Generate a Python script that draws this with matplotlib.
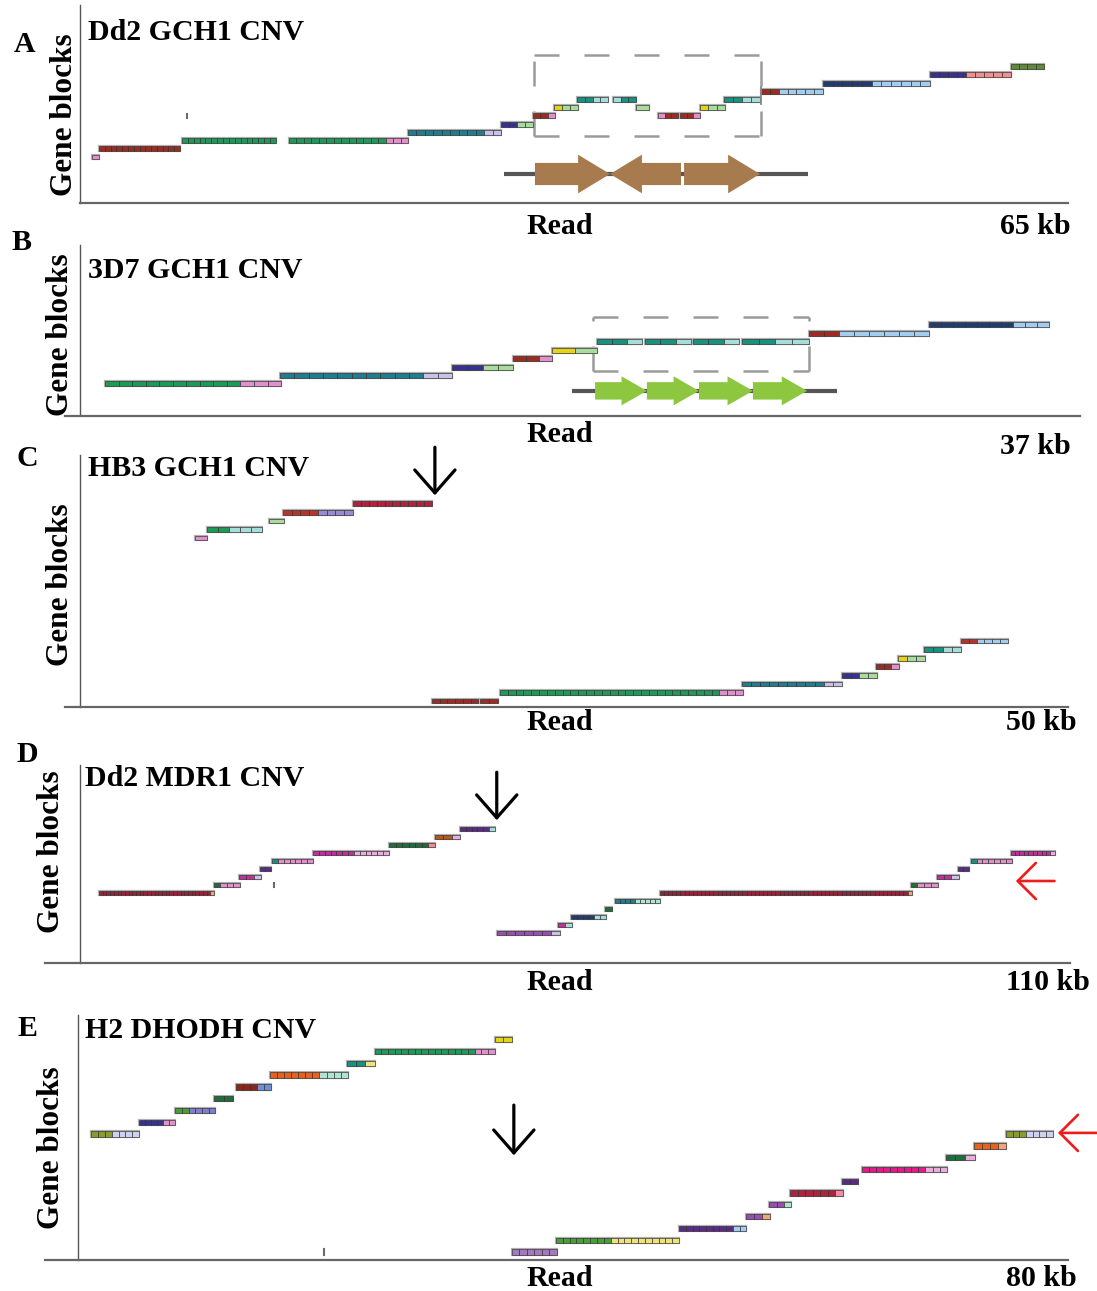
import matplotlib
matplotlib.use("Agg")
import matplotlib.pyplot as plt
from matplotlib.patches import Rectangle, FancyArrow
from matplotlib.lines import Line2D

plt.rcParams['font.family'] = ['Liberation Serif', 'DejaVu Serif']

W, H = 1097, 1291

palette = {
    "red": "#9e2b22", "green": "#1e9a58", "pink": "#e190cc", "teal": "#1f7d8f",
    "lav": "#c9c2e6", "navy": "#38328f", "lgreen": "#a9dc9c", "yellow": "#e6d21a",
    "cyan": "#18927f", "lcyan": "#a6dcda", "lblue": "#a3cdef", "dnavy": "#223a6e",
    "salmon": "#ef8f8f", "olive": "#5f8a3a", "crimson": "#b0213d", "brick": "#b8332a",
    "violet": "#9a8ad4", "wine": "#9c1f38", "peach": "#f3a57a", "magenta": "#c32e9e",
    "lpink": "#e9acdc", "purple": "#5b2a86", "violet2": "#9a4db0", "lilac": "#a877c2",
    "rust": "#b5561d", "orange": "#e8621e", "mint": "#afe3d2", "peri": "#7f7fd0",
    "cblue": "#6d8fd8", "hotpink": "#e4198a", "khaki": "#8a9a2e", "pale": "#cdd0ee",
    "dgreen": "#1d6e3a", "lgreen2": "#4a9e3a", "lyellow": "#f0e27a", "rose": "#f08aa8",
    "dred": "#8e2418", "grey": "#6b6b6b",
}

# ---- panel A: Dd2 GCH1 CNV (65 kb read) ----
a_len = 65
a_blocks = [  # start kb, end kb, gene-block row, colour runs (colour, cells)
    (0.79, 1.25, 0, [("pink", 1)]),
    (1.25, 6.58, 1, [("red", 14)]),
    (6.71, 12.89, 2, [("green", 16)]),
    (13.75, 21.58, 2, [("green", 13), ("pink", 3)]),
    (21.58, 27.70, 3, [("teal", 9), ("lav", 2)]),
    (27.70, 29.80, 4, [("navy", 2), ("lgreen", 2)]),
    (29.80, 31.25, 5, [("red", 2), ("pink", 1)]),
    (31.18, 32.76, 6, [("yellow", 1), ("lgreen", 2)]),
    (32.70, 34.74, 7, [("cyan", 2), ("lcyan", 2)]),
    (35.07, 36.58, 7, [("lcyan", 1), ("cyan", 2)]),
    (36.58, 37.43, 6, [("lgreen", 1)]),
    (38.03, 39.34, 5, [("pink", 1), ("red", 2)]),
    (39.47, 40.79, 5, [("red", 2), ("pink", 1)]),
    (40.79, 42.43, 6, [("yellow", 1), ("lgreen", 2)]),
    (42.37, 44.74, 7, [("cyan", 2), ("lcyan", 2)]),
    (44.80, 48.88, 8, [("red", 2), ("lblue", 5)]),
    (48.88, 55.92, 9, [("dnavy", 5), ("lblue", 6)]),
    (55.92, 61.25, 10, [("navy", 4), ("salmon", 5)]),
    (61.25, 63.42, 11, [("olive", 4)]),
]
a_ticks = [(7.04, 5), (44.80, 7.5)]
a_box = (29.87, 44.80, 2.56, 12.4)          # x0, x1, y0, y1
a_gene_line = (27.9, 47.9, -2.07)
a_genes = [(29.93, 34.87), (39.54, 34.87), (39.74, 44.74)]  # tail, tip

# ---- panel B: 3D7 GCH1 CNV (37 kb read) ----
b_len = 37
b_blocks = [
    (0.94, 7.53, 0, [("green", 10), ("pink", 3)]),
    (7.49, 13.93, 1, [("teal", 10), ("lav", 2)]),
    (13.93, 16.22, 2, [("navy", 2), ("lgreen", 2)]),
    (16.22, 17.68, 3, [("red", 2), ("pink", 1)]),
    (17.68, 19.36, 4, [("yellow", 1), ("lgreen", 1)]),
    (19.36, 21.05, 5, [("cyan", 2), ("lcyan", 1)]),
    (21.16, 22.88, 5, [("cyan", 2), ("lcyan", 1)]),
    (22.96, 24.68, 5, [("cyan", 2), ("lcyan", 1)]),
    (24.79, 27.30, 5, [("cyan", 2), ("lcyan", 2)]),
    (27.30, 31.80, 6, [("red", 2), ("lblue", 6)]),
    (31.80, 36.29, 7, [("dnavy", 7), ("lblue", 3)]),
]
b_box = (19.21, 27.30, 1.55, 7.98)
b_gene_line = (18.43, 28.35, -0.83)
b_genes = [(19.29, 21.23), (21.23, 23.18), (23.18, 25.20), (25.20, 27.23)]

# ---- panel C: HB3 GCH1 CNV (50 kb read) ----
c_len = 50
c_blocks = [
    (5.82, 6.43, 19, [("pink", 1)]),
    (6.43, 9.21, 20, [("green", 2), ("lcyan", 3)]),
    (9.57, 10.32, 21, [("lgreen", 1)]),
    (10.27, 13.81, 22, [("brick", 4), ("violet", 4)]),
    (13.81, 17.81, 23, [("crimson", 10)]),
    (17.81, 20.16, 0, [("red", 6)]),
    (20.26, 21.15, 0, [("red", 2)]),
    (21.25, 33.55, 1, [("green", 28), ("pink", 3)]),
    (33.50, 38.55, 2, [("teal", 9), ("lav", 2)]),
    (38.55, 40.33, 3, [("navy", 2), ("lgreen", 2)]),
    (40.28, 41.44, 4, [("red", 2), ("pink", 1)]),
    (41.39, 42.76, 5, [("yellow", 1), ("lgreen", 2)]),
    (42.71, 44.60, 6, [("cyan", 2), ("lcyan", 2)]),
    (44.58, 46.96, 7, [("brick", 2), ("lblue", 4)]),
]
c_break = (17.96, 29.6, 24.0)   # x, from row, to row

# ---- panel D: Dd2 MDR1 CNV (110 kb read) ----
d_len = 110
d_blocks = [
    (2.11, 14.92, 5, [("wine", 30), ("peach", 1)]),
    (14.92, 17.81, 6, [("dgreen", 1), ("pink", 3)]),
    (17.70, 20.15, 7, [("magenta", 2), ("lav", 1)]),
    (20.04, 21.26, 8, [("purple", 2)]),
    (21.38, 25.94, 9, [("cyan", 1), ("pink", 6)]),
    (25.94, 34.40, 10, [("magenta", 7), ("lpink", 6)]),
    (34.40, 39.52, 11, [("dgreen", 6), ("salmon", 1)]),
    (39.52, 42.30, 12, [("rust", 2), ("lpink", 1)]),
    (42.30, 46.19, 13, [("purple", 5), ("lcyan", 1)]),
    (46.41, 53.42, 0, [("violet2", 6), ("lav", 1)]),
    (53.26, 54.76, 1, [("magenta", 1), ("lcyan", 1)]),
    (54.65, 58.54, 2, [("dnavy", 4), ("lcyan", 2)]),
    (58.43, 59.27, 3, [("dgreen", 1)]),
    (59.55, 64.55, 4, [("teal", 4), ("mint", 5)]),
    (64.55, 92.60, 5, [("wine", 60), ("peach", 1)]),
    (92.49, 95.50, 6, [("dgreen", 1), ("pink", 3)]),
    (95.38, 97.83, 7, [("magenta", 2), ("lav", 1)]),
    (97.72, 98.94, 8, [("purple", 2)]),
    (99.17, 103.73, 9, [("cyan", 1), ("pink", 6)]),
    (103.62, 108.52, 10, [("magenta", 9), ("lpink", 1)]),
]
d_ticks = [(21.6, 6)]
d_break = (46.4, 20.1, 14.1)
d_repeat = (108.5, 104.2, 6.5)   # from x, to x, row

# ---- panel E: H2 DHODH CNV (80 kb read) ----
e_len = 80
e_blocks = [
    (1.05, 4.94, 10, [("khaki", 3), ("pale", 4)]),
    (4.94, 7.85, 11, [("navy", 4), ("pink", 2)]),
    (7.85, 11.09, 12, [("lgreen2", 2), ("peri", 4)]),
    (11.01, 12.55, 13, [("dgreen", 2)]),
    (12.79, 15.63, 14, [("dred", 3), ("cblue", 2)]),
    (15.55, 21.78, 15, [("orange", 7), ("mint", 4)]),
    (21.70, 23.97, 16, [("cyan", 2), ("lyellow", 1)]),
    (23.97, 33.68, 17, [("green", 15), ("pink", 3)]),
    (33.68, 35.06, 18, [("yellow", 2)]),
    (35.06, 38.70, 0, [("lilac", 6)]),
    (38.62, 48.58, 1, [("lgreen2", 8), ("lyellow", 10)]),
    (48.58, 54.01, 2, [("purple", 8), ("lblue", 2)]),
    (54.01, 55.95, 3, [("violet2", 2), ("peach", 1)]),
    (55.87, 57.65, 4, [("violet2", 2), ("mint", 1)]),
    (57.57, 61.78, 5, [("crimson", 6), ("rose", 1)]),
    (61.70, 62.99, 6, [("purple", 2)]),
    (63.32, 70.20, 7, [("hotpink", 9), ("lpink", 3)]),
    (70.12, 72.47, 8, [("dgreen", 2), ("lpink", 1)]),
    (72.39, 74.98, 9, [("orange", 3), ("peach", 1)]),
    (74.98, 78.78, 10, [("khaki", 3), ("pale", 4)]),
]
e_ticks = [(19.84, 0)]
e_break = (35.22, 12.46, 8.2)
e_repeat = (82.35, 79.19, 10.1)

fig = plt.figure(figsize=(W / 100, H / 100), dpi=100)


def fx(x):
    return x / W


def fy(y):
    return 1 - y / H


def panel(left, top, right, bottom, length, ylim, blocks, bar_h):
    ax = fig.add_axes([fx(left), fy(bottom), (right - left) / W, (bottom - top) / H])
    ax.set_xlim(0, length)
    ax.set_ylim(*ylim)
    for s in ["top", "right", "bottom"]:
        ax.spines[s].set_visible(False)
    ax.spines["left"].set_color("#555555")
    ax.spines["left"].set_linewidth(1.0)
    ax.set_xticks([])
    ax.set_yticks([])
    ax.patch.set_alpha(0)
    for x0, x1, row, runs in blocks:
        n = sum(c for _, c in runs)
        w = (x1 - x0) / n
        ax.add_patch(Rectangle((x0, row - bar_h / 2), x1 - x0, bar_h, fc="none",
                               ec="#b0b0b0", lw=1.6, zorder=2))
        i = 0
        for col, cnt in runs:
            for _ in range(cnt):
                ax.add_patch(Rectangle((x0 + i * w, row - bar_h / 2), w, bar_h,
                                       fc=palette[col], ec="#2e2e2e", lw=0.45, zorder=3))
                i += 1
    return ax


def ticks(ax, items, h):
    for x, row in items:
        ax.plot([x, x], [row - h, row + h], color=palette["grey"], lw=1.5, zorder=3)


def dashed_box(ax, box):
    x0, x1, y0, y1 = box
    kw = dict(color="#9a9a9a", lw=1.8, dashes=(10, 10), zorder=1)
    ax.plot([x0, x1], [y1, y1], **kw)
    ax.plot([x0, x1], [y0, y0], **kw)
    ax.plot([x0, x0], [y0, y1], **kw)
    ax.plot([x1, x1], [y0, y1], **kw)


def down_arrow(ax, spec):
    x, r0, r1 = spec
    ax.annotate("", xy=(x, r1), xytext=(x, r0), annotation_clip=False,
                arrowprops=dict(arrowstyle="->,head_length=1.65,head_width=1.45",
                                color="black", lw=2.3, shrinkA=0, shrinkB=0))


def left_arrow(ax, spec):
    x0, x1, row = spec
    ax.annotate("", xy=(x1, row), xytext=(x0, row), annotation_clip=False,
                arrowprops=dict(arrowstyle="->,head_length=1.3,head_width=1.3",
                                color="#ee1c1c", lw=1.9, shrinkA=0, shrinkB=0))


def hline(x0, x1, y):
    fig.add_artist(Line2D([fx(x0), fx(x1)], [fy(y), fy(y)], color="#666666", lw=1.6))


def labels(letter, lpos, title, tpos, gpos, read_y, kb, kpos):
    bold = dict(fontsize=21.5, fontweight="bold", color="black")
    fig.text(fx(lpos[0]), fy(lpos[1]), letter, ha="center", va="center", **bold)
    fig.text(fx(tpos[0]), fy(tpos[1]), title, ha="left", va="center", **bold)
    fig.text(fx(gpos[0]), fy(gpos[1]), "Gene blocks", ha="center", va="center",
             rotation=90, fontsize=22.5, fontweight="bold")
    fig.text(fx(560), fy(read_y), "Read", ha="center", va="center", **bold)
    fig.text(fx(kpos[0]), fy(kpos[1]), kb, ha="center", va="center", **bold)


# A
ax = panel(80, 5, 1068, 203, a_len, (-5.6, 18.5), a_blocks, 0.6)
ticks(ax, [a_ticks[0]], 0.25)
ax.plot([a_ticks[1][0]] * 2, [a_ticks[1][1] - 1, a_ticks[1][1] + 1], color="#888888", lw=1.3, zorder=3)
dashed_box(ax, a_box)
ax.plot(a_gene_line[:2], [a_gene_line[2]] * 2, color="#555555", lw=3, zorder=2, solid_capstyle="butt")
for tail, tip in a_genes:
    ax.add_patch(FancyArrow(tail, a_gene_line[2], tip - tail, 0, width=2.7, head_width=4.7,
                            head_length=2.1, length_includes_head=True,
                            fc="#a87b4f", ec="none", zorder=3))
hline(80, 1068, 203)
labels("A", (25, 45), "Dd2 GCH1 CNV", (88, 33), (65, 115), 226, "65 kb", (1035, 226))

# B
ax = panel(80, 245, 1068, 415, b_len, (-3.7, 16.5), b_blocks, 0.6)
dashed_box(ax, b_box)
ax.plot(b_gene_line[:2], [b_gene_line[2]] * 2, color="#555555", lw=3, zorder=2, solid_capstyle="butt")
for tail, tip in b_genes:
    ax.add_patch(FancyArrow(tail, b_gene_line[2], tip - tail, 0, width=2.07, head_width=3.45,
                            head_length=0.95, length_includes_head=True,
                            fc="#8dc63f", ec="none", zorder=3))
hline(65, 1080, 416)
labels("B", (22, 242), "3D7 GCH1 CNV", (88, 270), (60, 335), 435, "37 kb", (1035, 447))

# C
ax = panel(80, 455, 1068, 707, c_len, (-0.7, 28.7), c_blocks, 0.55)
down_arrow(ax, c_break)
hline(65, 1068, 707)
labels("C", (27, 458), "HB3 GCH1 CNV", (88, 469), (60, 585), 722, "50 kb", (1041, 722))

# D
ax = panel(80, 765, 1068, 963, d_len, (-3.75, 21), d_blocks, 0.6)
ticks(ax, d_ticks, 0.3)
down_arrow(ax, d_break)
left_arrow(ax, d_repeat)
hline(45, 1070, 963)
labels("D", (27, 754), "Dd2 MDR1 CNV", (85, 779), (52, 852), 983, "110 kb", (1048, 983))

# E
ax = panel(78, 1015, 1068, 1260, e_len, (-0.68, 20.1), e_blocks, 0.45)
ticks(ax, e_ticks, 0.25)
down_arrow(ax, e_break)
left_arrow(ax, e_repeat)
hline(45, 1068, 1260)
labels("E", (27, 1028), "H2 DHODH CNV", (85, 1031), (52, 1148), 1278, "80 kb", (1041, 1278))

fig.savefig("out.png", dpi=100, facecolor="white")
